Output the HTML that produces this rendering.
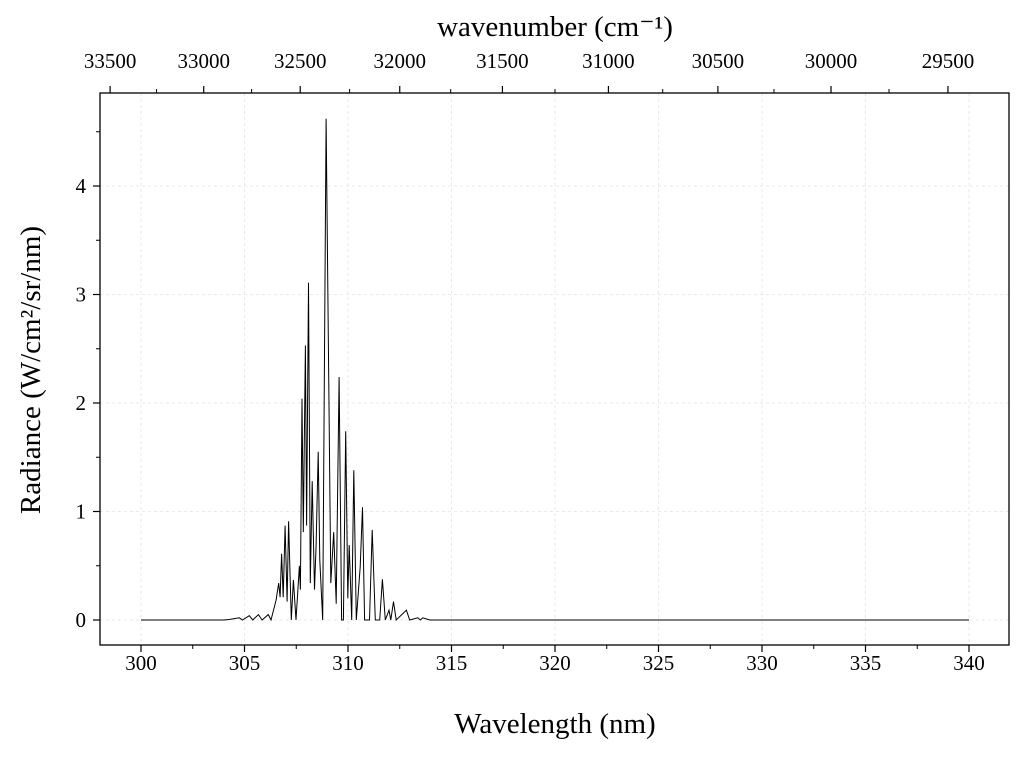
<!DOCTYPE html>
<html><head><meta charset="utf-8"><style>
body{margin:0;background:#fff}
svg text{font-family:"Liberation Serif",serif;fill:#000}
</style></head><body>
<svg id="chart" width="1024" height="758" xmlns="http://www.w3.org/2000/svg"></svg>
<script>
const wavelengths=[300,304,304.26,304.75,304.9,305.23,305.4,305.67,305.85,306.15,306.28,306.52,306.65,306.72,306.79,306.87,306.96,307.06,307.13,307.26,307.36,307.49,307.65,307.70,307.78,307.84,307.94,308.00,308.09,308.18,308.27,308.38,308.46,308.56,308.64,308.78,308.94,309.17,309.31,309.43,309.57,309.69,309.78,309.89,309.99,310.06,310.18,310.28,310.40,310.59,310.70,310.80,311.04,311.17,311.32,311.53,311.66,311.80,311.98,312.07,312.20,312.33,312.82,312.98,313.37,313.5,313.61,313.95,340];
const radiance=[0,0,0.005,0.02,0,0.04,0,0.05,0,0.05,0,0.18,0.34,0.21,0.61,0.21,0.87,0.17,0.91,0,0.37,0,0.5,0.28,2.04,0.81,2.53,0.87,3.11,0.34,1.28,0.28,0.69,1.55,0.55,0,4.62,0.34,0.81,0.15,2.24,0,0,1.74,0.2,0.69,0,1.38,0,0.49,1.04,0,0,0.83,0,0,0.375,0,0.09,0,0.17,0,0.09,0,0.02,0,0.02,0,0];
const xTicks=[300,305,310,315,320,325,330,335,340];
const yTicks=[0,1,2,3,4];
const topTicks=[33500,33000,32500,32000,31500,31000,30500,30000,29500];

const S=document.getElementById('chart'),NS='http://www.w3.org/2000/svg';
const L=100,R=1009,T=93,B=645;
const xs=v=>141+(v-300)*20.7;
const ys=v=>620-v*108.5;
function el(t,a,p){const e=document.createElementNS(NS,t);for(const k in a)e.setAttribute(k,a[k]);(p||S).appendChild(e);return e;}
// grid
for(const t of xTicks){const g=el('line',{x1:xs(t),x2:xs(t),y1:T,y2:B,stroke:'#e4e4e4','stroke-dasharray':'3,3','stroke-width':0.8});}
for(const t of yTicks){const g=el('line',{x1:L,x2:R,y1:ys(t),y2:ys(t),stroke:'#e4e4e4','stroke-dasharray':'3,3','stroke-width':0.8});}
// series
const pts=wavelengths.map((w,i)=>xs(w).toFixed(1)+','+ys(radiance[i]).toFixed(1)).join(' ');
const line=el('polyline',{points:pts,fill:'none',stroke:'#000','stroke-width':1,'stroke-linejoin':'miter'});


// frame
const fr=el('rect',{x:L,y:T,width:R-L,height:B-T,fill:'none',stroke:'#000','stroke-width':1.3});


// bottom ticks
for(const t of xTicks){el('line',{x1:xs(t),x2:xs(t),y1:B,y2:B+7,stroke:'#000','stroke-width':1.2});
const tx=el('text',{x:xs(t),y:670,'text-anchor':'middle','font-size':21});tx.textContent=t;
}
for(let t=302.5;t<340;t+=5)el('line',{x1:xs(t),x2:xs(t),y1:B,y2:B+4,stroke:'#000','stroke-width':1});
// left ticks
for(const t of yTicks){el('line',{x1:L,x2:L-7,y1:ys(t),y2:ys(t),stroke:'#000','stroke-width':1.2});
const tx=el('text',{x:L-14,y:ys(t)+7,'text-anchor':'end','font-size':21});tx.textContent=t;
}
for(let t=0.5;t<4.6;t+=1)el('line',{x1:L,x2:L-4,y1:ys(t),y2:ys(t),stroke:'#000','stroke-width':1});
// top ticks
for(const t of topTicks){const x=xs(1e7/t);el('line',{x1:x,x2:x,y1:T,y2:T-7,stroke:'#000','stroke-width':1.2});
const tx=el('text',{x:x,y:68,'text-anchor':'middle','font-size':21});tx.textContent=t;
}
for(let t=33250;t>29400;t-=500){const x=xs(1e7/t);if(x>L&&x<R)el('line',{x1:x,x2:x,y1:T,y2:T-4,stroke:'#000','stroke-width':1});}
// titles
let a=el('text',{x:555,y:733,'text-anchor':'middle','font-size':29});a.textContent='Wavelength (nm)';
a=el('text',{x:555,y:36,'text-anchor':'middle','font-size':29});a.textContent='wavenumber (cm⁻¹)';
a=el('text',{x:0,y:0,'text-anchor':'middle','font-size':29,transform:'translate(40,370) rotate(-90)'});a.textContent='Radiance (W/cm²/sr/nm)';
</script>
</body></html>
